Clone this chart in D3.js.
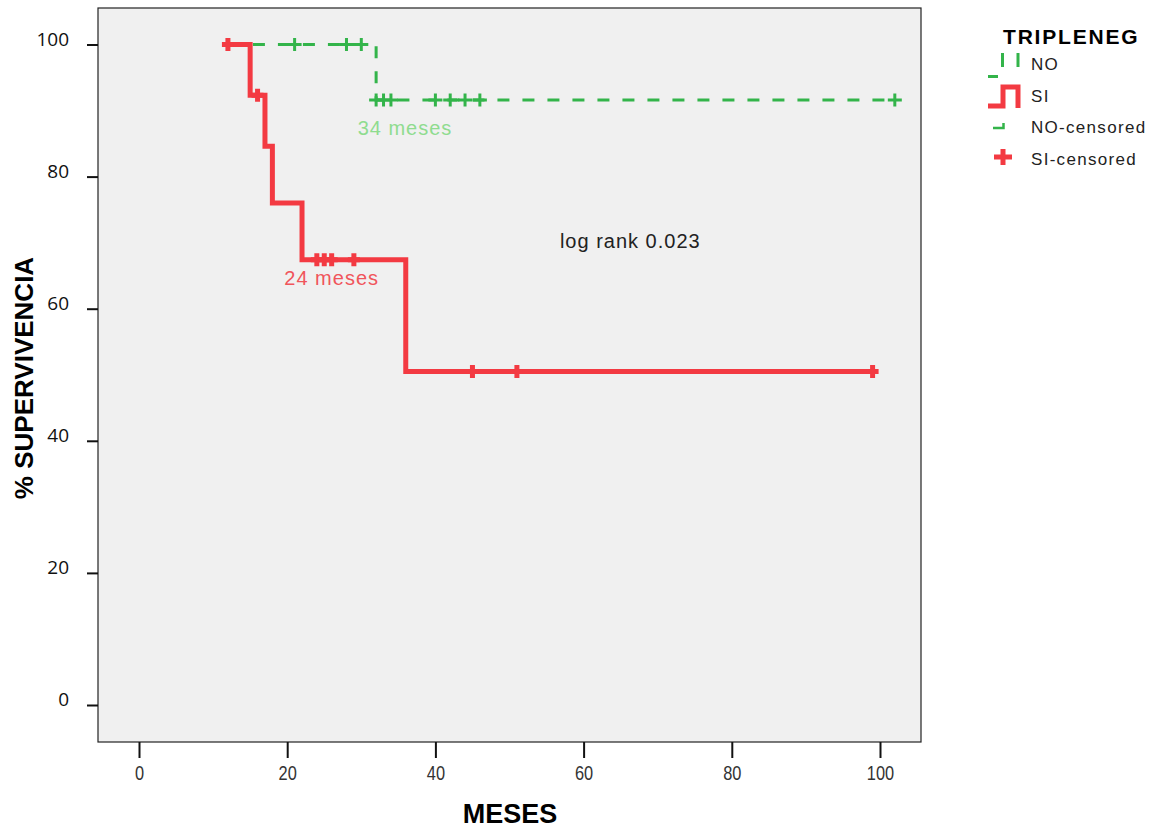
<!DOCTYPE html>
<html>
<head>
<meta charset="utf-8">
<title>Supervivencia TRIPLENEG</title>
<script src="https://d3js.org/d3.v7.min.js"></script>
<style>
  body { margin: 0; background: #fff; }
</style>
</head>
<body>
<div id="chart"></div>
<script>

// survival curves (months, % survival)
var siTimes = [12, 15, 17, 18, 22, 36, 99];
var siSurv  = [100, 92.3, 84.6, 76.0, 67.4, 50.5, 50.5];
var siCensTimes = [12, 16, 24, 25, 26, 29, 45, 51, 99];
var siCensSurv  = [100, 92.3, 67.4, 67.4, 67.4, 67.4, 50.5, 50.5, 50.5];

var noTimes = [12, 32, 102];
var noSurv  = [100, 91.6, 91.6];
var noCensTimes = [21, 28, 30, 32, 33, 34, 40, 42, 44, 46, 102];
var noCensSurv  = [100, 100, 100, 91.6, 91.6, 91.6, 91.6, 91.6, 91.6, 91.6, 91.6];

var xTicks = [0, 20, 40, 60, 80, 100];
var yTicks = [0, 20, 40, 60, 80, 100];

var legendLabels = ["NO", "SI", "NO-censored", "SI-censored"];

// notes written on the plot (month, %)
var notes = [
  {text: "34 meses", t: 35.9, s: 86.3, color: "#8fdc8f"},
  {text: "24 meses", t: 26.0, s: 63.6, color: "#f0555b"},
  {text: "log rank 0.023", t: 66.3, s: 69.2, color: "#222"}
];

var red = "#f33a42", green = "#33b44a";

var margin = {top: 8, left: 98},
    width = 823,
    height = 734;

var svg = d3.select("#chart")
  .append("svg")
    .attr("width", 1166)
    .attr("height", 831);

svg.append("rect").attr("width", 1166).attr("height", 831).attr("fill", "#fff");

var g = svg.append("g")
    .attr("transform", "translate(" + margin.left + "," + margin.top + ")");

var x = d3.scaleLinear().domain([0, 100]).range([41, 782]);
var y = d3.scaleLinear().domain([0, 100]).range([697, 36.5]);

// plot background
g.append("rect")
  .attr("width", width)
  .attr("height", height)
  .attr("fill", "#f0f0f0")
  .attr("stroke", "#222")
  .attr("stroke-width", 1.2);

// x axis (condensed labels)
var xAxis = g.append("g")
  .attr("transform", "translate(0," + height + ")")
  .call(d3.axisBottom(x).tickValues(xTicks).tickSize(16).tickPadding(7));
xAxis.select(".domain").remove();
xAxis.selectAll("line").attr("stroke", "#111").attr("stroke-width", 2);
xAxis.selectAll("text")
  .attr("fill", "#333")
  .attr("transform", "scale(0.78,1)")
  .style("font-family", "'Liberation Sans', Arial, sans-serif")
  .style("font-size", "21px");

// y axis
var yAxis = g.append("g")
  .call(d3.axisLeft(y).tickValues(yTicks).tickSize(11).tickPadding(18));
yAxis.select(".domain").remove();
yAxis.selectAll("line").attr("stroke", "#111").attr("stroke-width", 2);
yAxis.selectAll("text")
  .attr("fill", "#111")
  .attr("dy", "0.05em")
  .style("font-family", "'Open Sans', sans-serif")
  .style("font-size", "19px");

// axis titles
svg.append("text")
  .attr("x", 510).attr("y", 823)
  .attr("text-anchor", "middle")
  .style("font-family", "'Liberation Sans', Arial, sans-serif")
  .style("font-weight", "bold")
  .style("font-size", "27px")
  .text("MESES");

svg.append("text")
  .attr("transform", "translate(33,378) rotate(-90)")
  .attr("text-anchor", "middle")
  .style("font-family", "'Liberation Sans', Arial, sans-serif")
  .style("font-weight", "bold")
  .style("font-size", "26px")
  .text("% SUPERVIVENCIA");

var step = d3.line()
  .x(function(d) { return x(d[0]); })
  .y(function(d) { return y(d[1]); })
  .curve(d3.curveStepAfter);

// NO curve (dashed green)
g.append("path")
  .datum(d3.zip(noTimes, noSurv))
  .attr("d", step)
  .attr("fill", "none")
  .attr("stroke", green)
  .attr("stroke-width", 3)
  .attr("stroke-dasharray", "12,13");

g.selectAll(".noCens")
  .data(d3.zip(noCensTimes, noCensSurv))
  .enter().append("path")
    .attr("class", "noCens")
    .attr("transform", function(d) { return "translate(" + x(d[0]) + "," + y(d[1]) + ")"; })
    .attr("d", "M-7,0H7M0,-6.5V6.5")
    .attr("stroke", green)
    .attr("stroke-width", 3);

// SI curve (solid red)
g.append("path")
  .datum(d3.zip(siTimes, siSurv))
  .attr("d", step)
  .attr("fill", "none")
  .attr("stroke", red)
  .attr("stroke-width", 5);

g.selectAll(".siCens")
  .data(d3.zip(siCensTimes, siCensSurv))
  .enter().append("path")
    .attr("class", "siCens")
    .attr("transform", function(d) { return "translate(" + x(d[0]) + "," + y(d[1]) + ")"; })
    .attr("d", "M-6,0H6M0,-6.5V6.5")
    .attr("stroke", red)
    .attr("stroke-width", 5);

// notes
g.selectAll(".note")
  .data(notes)
  .enter().append("text")
    .attr("class", "note")
    .attr("x", function(d) { return x(d.t); })
    .attr("y", function(d) { return y(d.s); })
    .attr("text-anchor", "middle")
    .attr("fill", function(d) { return d.color; })
    .style("font-family", "'Liberation Sans', Arial, sans-serif")
    .style("font-size", "20px")
    .style("letter-spacing", "1px")
    .text(function(d) { return d.text; });

// legend
var legend = svg.append("g");
legend.append("text")
  .attr("x", 1003).attr("y", 44)
  .style("font-family", "'Liberation Sans', Arial, sans-serif")
  .style("font-weight", "bold")
  .style("font-size", "21px")
  .style("letter-spacing", "1.8px")
  .text("TRIPLENEG");

legend.selectAll(".lab")
  .data(legendLabels)
  .enter().append("text")
    .attr("class", "lab")
    .attr("x", 1031)
    .attr("y", function(d, i) { return 70 + i * 31.7; })
    .attr("fill", "#222")
    .style("font-family", "'Liberation Sans', Arial, sans-serif")
    .style("font-size", "17px")
    .style("letter-spacing", "1.3px")
    .text(function(d) { return d; });

// legend glyphs
legend.append("path")
  .attr("d", "M988,76.5H998M1002.5,53V67M1018,53V67")
  .attr("stroke", green).attr("stroke-width", 3).attr("fill", "none");
legend.append("path")
  .attr("d", "M988,106H1003V87H1018V108")
  .attr("stroke", red).attr("stroke-width", 5).attr("fill", "none");
legend.append("path")
  .attr("d", "M993,128H1003.5V123")
  .attr("stroke", green).attr("stroke-width", 2.5).attr("fill", "none");
legend.append("path")
  .attr("d", "M994,157H1012M1003,149V165")
  .attr("stroke", red).attr("stroke-width", 5).attr("fill", "none");

</script>
</body>
</html>
